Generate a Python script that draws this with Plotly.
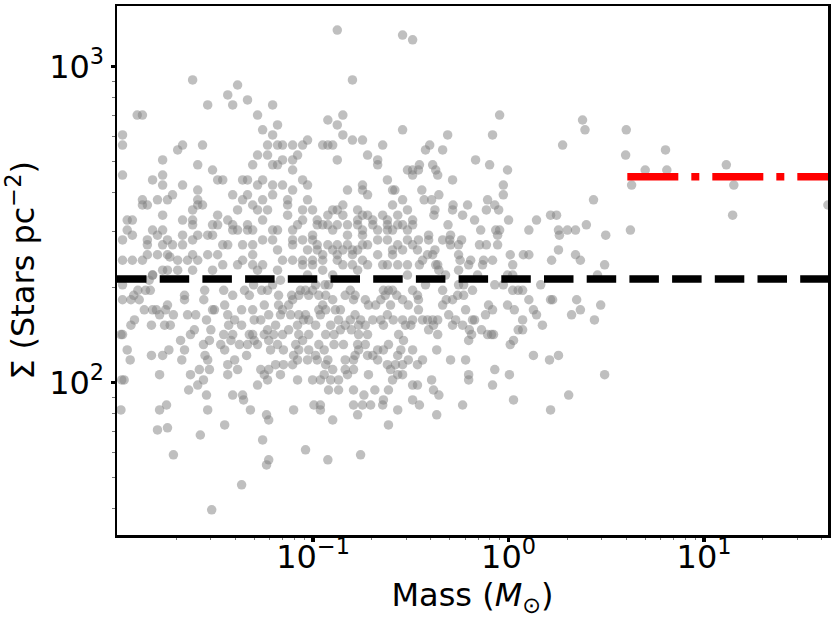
import plotly.graph_objects as go

# ---------------- data ----------------
mass = [
    # upper outliers
    0.0242, 0.0366, 0.0411, 0.0388, 0.0289, 0.0462, 0.0126, 0.0134, 0.0520, 0.0621, 0.0658, 0.133, 0.287, 0.323, 0.159, 0.119, 0.142, 0.133, 0.90, 0.287, 2.39, 2.46, 4.00,
    # low-mass, upper band
    0.0552, 0.0106, 0.0106, 0.0215, 0.0203, 0.0272, 0.0585, 0.0520, 0.0170, 0.0257,
    0.0491, 0.0585, 0.0106, 0.0170, 0.0306, 0.0345, 0.0151, 0.0170, 0.0325, 0.0436,
    0.0462, 0.0552, 0.0520, 0.0215, 0.0257, 0.0191, 0.0160, 0.0180, 0.0257, 0.0134,
    0.0134, 0.0142, 0.0257, 0.0272, 0.0388, 0.0436, 0.0462, 0.0491, 0.0520, 0.0411,
    0.0552, 0.0242, 0.0170, 0.0170, 0.0215, 0.0242, 0.0242, 0.0325, 0.0366, 0.0112,
    0.0119, 0.0306, 0.0325, 0.0388, 0.0388, 0.0411, 0.0462, 0.0552, 0.0462, 0.0491,
    0.0151, 0.0112, 0.0106, 0.0119, 0.0142, 0.0142, 0.0160, 0.0170, 0.0180, 0.0191,
    0.0215, 0.0215, 0.0257, 0.0242, 0.0289, 0.0306, 0.0345, 0.0366, 0.0436, 0.0552,
    0.0491, 0.0142, 0.0160, 0.0180, 0.0185, 0.0242, 0.0228, 0.0257, 0.0325, 0.0289,
    0.0106, 0.0119, 0.0134, 0.0203, 0.0345, 0.0411, 0.0436, 0.0491, 0.0170, 0.0180,
    0.0151, 0.0203, 0.0242, 0.0306, 0.0491, 0.0552, 0.0520,
    # intermediate mass, upper band
    0.0621, 0.0937, 0.142, 0.159, 0.179,
    0.0658, 0.0698, 0.0786, 0.0884, 0.112, 0.119, 0.126, 0.227,
    0.0698, 0.0658, 0.0621, 0.0786, 0.0833, 0.0786, 0.133, 0.190, 0.214, 0.214, 0.304, 0.323, 0.323,
    0.0621, 0.0698, 0.0786, 0.0884, 0.0937, 0.150, 0.179, 0.179, 0.240, 0.255, 0.262, 0.190, 0.287,
    0.0621, 0.0741, 0.0741, 0.0937, 0.142, 0.133, 0.126, 0.142, 0.255, 0.304, 0.323,
    0.0585, 0.0741, 0.0884, 0.0994, 0.119, 0.169, 0.169, 0.179, 0.190, 0.202, 0.227, 0.240, 0.271, 0.287,
    0.0884, 0.0786, 0.0833, 0.0658, 0.0621, 0.105, 0.105, 0.112, 0.119, 0.126, 0.133, 0.150, 0.169, 0.179, 0.202, 0.240, 0.240, 0.255, 0.271, 0.304, 0.323,
    0.0786, 0.0884, 0.0994, 0.0994, 0.150, 0.179, 0.214, 0.214, 0.240, 0.304, 0.271, 0.323,
    0.0621, 0.0786, 0.105, 0.119, 0.133, 0.150, 0.179, 0.190,
    0.0658, 0.0698, 0.0786, 0.0937, 0.0994, 0.105, 0.112, 0.126, 0.133, 0.142, 0.159, 0.159, 0.169, 0.179, 0.214, 0.255, 0.255, 0.287,
    0.0658, 0.0884, 0.0884, 0.0994, 0.112, 0.112, 0.133, 0.142, 0.159, 0.190, 0.227, 0.240, 0.271, 0.304,
    0.0937, 0.126, 0.169, 0.304,
    # higher mass, upper band
    0.488, 0.828, 1.89, 0.395, 0.376, 0.460, 0.678, 0.80, 0.988, 0.35, 0.346, 0.409, 0.424, 0.434, 0.517, 0.94, 0.94,
    0.36, 0.37, 0.404, 0.44, 0.781, 0.77, 0.85, 0.89, 0.617, 0.52, 0.517, 0.582, 0.42, 0.415,
    1.0, 0.67, 0.72, 0.86, 0.90, 0.879, 1.27, 1.39, 1.64, 1.76, 1.80, 1.82,
    0.49, 0.39, 0.39, 0.460, 0.505, 0.50, 0.505, 0.575, 0.555, 0.71, 0.77, 0.879,
    0.346, 0.342, 0.42, 0.409, 0.385, 0.363, 0.35, 0.434, 0.424, 0.44, 0.476,
    0.555, 0.565, 0.555, 0.640, 0.625, 0.745, 0.736, 0.828, 1.02, 1.05, 1.19, 1.27, 1.66, 1.80,
    0.694, 0.988, 1.05,
    # most massive stars
    3.97, 6.35, 5.0, 6.45, 13.0, 4.26, 14.2, 14.0, 43.0, 2.72, 2.00, 2.20, 2.50, 3.14, 4.2, 2.2, 2.33, 3.10, 2.85, 2.23, 2.33, 2.10, 2.96, 2.75, 3.10, 2.03,
    # low-mass, lower band
    0.0106, 0.0106, 0.0121, 0.0117, 0.0129, 0.0127, 0.0139, 0.0147, 0.0145, 0.0151,
    0.0137, 0.0151, 0.0158, 0.0180, 0.0164, 0.0193, 0.0176, 0.0122, 0.0117, 0.0149, 0.0174, 0.0186,
    0.0220, 0.0220, 0.0228, 0.0251, 0.0279, 0.0276, 0.0313, 0.0306, 0.0353, 0.0349, 0.0388, 0.0446, 0.0472, 0.0496, 0.0546, 0.0563, 0.0491, 0.0500, 0.0540,
    0.0366, 0.0397, 0.0431, 0.0285, 0.0370, 0.0431, 0.0472, 0.0491, 0.0500, 0.0563, 0.0388, 0.0349, 0.0337, 0.0300, 0.0247, 0.0236, 0.0210, 0.0220, 0.0275, 0.0295, 0.0380, 0.0420, 0.0462, 0.0520,
    0.0106, 0.0104, 0.0112, 0.0116, 0.0149, 0.0170, 0.0183, 0.0213, 0.0280, 0.0289, 0.0353, 0.0397, 0.0457,
    0.0295, 0.0262, 0.0236, 0.0275, 0.0257, 0.0231, 0.0285, 0.0366, 0.0366, 0.0411, 0.0540, 0.0563, 0.0520, 0.0164, 0.0105, 0.0108,
    0.0388, 0.0436, 0.0441, 0.0104, 0.0164, 0.0178, 0.0289, 0.0478, 0.0353, 0.0578,
    # intermediate mass, lower band
    0.0585, 0.0621, 0.0681, 0.0666, 0.0666, 0.0698, 0.0681, 0.0750, 0.0786, 0.0777, 0.0845, 0.0862, 0.0915, 0.0950, 0.0994, 0.103, 0.107, 0.115, 0.120, 0.126, 0.116, 0.112,
    0.107, 0.116, 0.109, 0.130, 0.138, 0.146, 0.155, 0.164, 0.161, 0.185, 0.192, 0.209, 0.229, 0.234, 0.243, 0.249, 0.255, 0.268, 0.287, 0.307, 0.323, 0.222,
    0.164, 0.175, 0.171, 0.155, 0.146, 0.135, 0.123, 0.103, 0.0950, 0.0845, 0.0893, 0.0915, 0.0768, 0.0643, 0.0593,
    0.0585, 0.0628, 0.0698, 0.0750, 0.0833, 0.0845, 0.0884, 0.0950, 0.116, 0.128, 0.138, 0.157, 0.171, 0.185, 0.190, 0.202, 0.222, 0.229, 0.240, 0.257, 0.287, 0.316, 0.323, 0.274, 0.290, 0.297,
    0.0593, 0.0658, 0.0705, 0.0606, 0.0815, 0.0845, 0.0795, 0.0950, 0.107, 0.114, 0.128, 0.143, 0.169, 0.171, 0.185, 0.190, 0.214, 0.229, 0.243, 0.271, 0.281, 0.323,
    0.0643, 0.0593, 0.0705, 0.0786, 0.0833, 0.0937, 0.103, 0.105, 0.119, 0.116, 0.126, 0.146, 0.161, 0.164, 0.146, 0.161, 0.202, 0.214, 0.240, 0.264, 0.287, 0.307,
    0.0585, 0.0681, 0.0833, 0.0994, 0.109, 0.114, 0.123, 0.135, 0.150, 0.192, 0.249, 0.271, 0.255, 0.287, 0.323,
    0.120, 0.135, 0.161, 0.182, 0.207, 0.243, 0.323,
    0.0795, 0.101, 0.109, 0.109, 0.161, 0.179, 0.197, 0.227, 0.229, 0.271, 0.126, 0.169, 0.0593, 0.243,
    # higher mass, lower band
    0.376, 0.460, 0.555, 0.589, 0.654, 0.85, 0.94, 1.46,
    0.342, 0.346, 0.346, 0.460, 0.48, 0.517, 0.549, 0.589, 0.494, 0.603, 0.517, 0.363, 0.385, 0.409, 0.434, 0.413, 0.390, 0.434, 0.536, 0.582, 0.654, 0.67, 0.727, 0.63, 0.647, 0.625,
    0.762, 0.79, 0.828, 0.781, 0.818, 0.838, 0.988, 1.07, 1.05, 1.12, 1.18, 1.27, 1.34, 1.39, 1.18, 1.18, 1.12, 1.49, 1.64, 1.68, 1.02, 1.06,
    0.429, 0.505, 0.603, 0.363, 0.342, 1.34, 1.62, 1.80, 0.625, 0.625, 0.85, 1.01, 0.828, 0.404, 0.413, 0.44, 0.342, 0.35, 0.582, 0.429, 1.06, 1.64,
    # lower outliers
    0.0160, 0.0180, 0.0265, 0.0193, 0.0552, 0.0593, 0.0578, 0.0431, 0.0303, 0.0915, 0.119, 0.175,
]

sigma = [
    # upper outliers
    908, 814, 875, 757, 757, 785, 703, 703, 703, 757, 654, 1306, 1259, 1216, 908, 678, 703, 654, 703, 631, 678, 631, 631,
    # low-mass, upper band
    631, 608, 565, 565, 545, 565, 565, 525, 507, 489,
    489, 525, 454, 454, 471, 438, 438, 422, 438, 438,
    438, 438, 422, 422, 407, 393, 379, 379, 379, 379,
    365, 365, 365, 365, 393, 379, 393, 365, 352, 352,
    379, 352, 339, 304, 327, 327, 316, 339, 327, 327,
    327, 316, 316, 316, 304, 304, 316, 327, 304, 304,
    304, 304, 283, 293, 283, 273, 293, 273, 283, 273,
    293, 273, 293, 283, 293, 293, 273, 273, 273, 283,
    273, 254, 254, 254, 250, 254, 244, 244, 254, 254,
    244, 244, 244, 244, 236, 236, 244, 254, 227, 227,
    219, 227, 227, 227, 236, 236, 227,
    # intermediate mass, upper band
    608, 586, 608, 586, 586,
    565, 565, 565, 565, 565, 565, 565, 565,
    507, 489, 489, 507, 525, 471, 507, 525, 507, 489, 471, 454, 471,
    422, 422, 407, 438, 422, 407, 422, 407, 438, 407, 407, 393, 379,
    393, 379, 365, 379, 365, 352, 352, 339, 365, 352, 327,
    352, 339, 352, 352, 339, 352, 327, 339, 339, 327, 339, 327, 339, 316,
    327, 304, 316, 304, 304, 327, 316, 316, 316, 304, 316, 316, 316, 304, 316, 316, 304, 304, 316, 304, 316,
    283, 283, 293, 283, 293, 293, 304, 283, 283, 283, 273, 273,
    283, 273, 273, 273, 273, 273, 273, 273,
    263, 244, 244, 263, 244, 263, 254, 263, 254, 263, 263, 254, 263, 244, 254, 263, 254, 263,
    227, 244, 236, 236, 244, 227, 244, 236, 236, 236, 236, 236, 236, 236,
    219, 219, 227, 219,
    # higher mass, upper band
    608, 608, 565, 565, 545, 545, 507, 489, 471, 489, 471, 489, 471, 454, 438, 422, 393,
    407, 379, 379, 393, 379, 352, 365, 352, 365, 365, 352, 339, 352, 339,
    327, 327, 304, 304, 304, 293, 304, 327, 339, 339, 304, 293,
    316, 293, 283, 283, 293, 283, 273, 283, 273, 273, 273, 273,
    283, 263, 263, 254, 254, 244, 236, 236, 236, 227, 219,
    254, 244, 227, 244, 236, 244, 236, 244, 254, 236, 254, 254, 244, 263,
    219, 219, 219,
    # most massive stars
    525, 545, 471, 471, 489, 422, 422, 339, 365, 379, 304, 304, 316, 293, 304, 254, 244, 236, 219, 183, 170, 164, 176, 158, 106, 91.4,
    # low-mass, lower band
    204, 183, 189, 183, 183, 196, 196, 196, 211, 219,
    170, 170, 170, 176, 164, 164, 170, 158, 152, 152, 152, 152,
    189, 183, 164, 164, 196, 183, 170, 170, 176, 196, 189, 196, 189, 204, 196, 176, 170, 158, 158,
    164, 158, 170, 158, 152, 152, 142, 142, 136, 142, 142, 142, 132, 147, 147, 142, 136, 127, 132, 136, 136, 132, 132, 132,
    142, 142, 127, 118, 122, 122, 127, 118, 122, 118, 127, 118, 122,
    110, 110, 106, 102, 98.3, 94.8, 91.4, 114, 106, 110, 110, 106, 98.3, 106, 102, 102,
    91.4, 91.4, 88.2, 82.0, 82.0, 85.0, 82.0, 82.0, 73.5, 79.1,
    # intermediate mass, lower band
    196, 204, 211, 189, 176, 170, 164, 176, 183, 189, 189, 196, 196, 189, 196, 204, 189, 204, 204, 183, 189, 176,
    170, 170, 164, 170, 170, 189, 196, 189, 183, 183, 176, 176, 196, 189, 196, 176, 196, 189, 183, 176, 196, 183,
    164, 158, 152, 158, 152, 158, 152, 152, 158, 164, 158, 164, 164, 152, 164,
    147, 142, 142, 147, 152, 142, 136, 142, 142, 142, 147, 147, 142, 152, 142, 158, 158, 152, 164, 158, 158, 152, 158, 142, 136, 152,
    136, 132, 127, 127, 132, 127, 122, 127, 132, 127, 132, 132, 132, 127, 132, 122, 127, 127, 132, 122, 127, 127,
    114, 110, 114, 114, 118, 118, 122, 118, 118, 114, 110, 118, 118, 122, 110, 110, 122, 118, 114, 114, 114, 118,
    102, 106, 102, 102, 102, 106, 102, 102, 106, 106, 110, 106, 102, 106, 98.3,
    94.8, 94.8, 94.8, 91.4, 94.8, 94.8, 88.2,
    82.0, 85.0, 85.0, 82.0, 85.0, 85.0, 85.0, 85.0, 88.2, 82.0, 76.2, 79.1, 76.2, 73.5,
    # higher mass, lower band
    204, 196, 204, 204, 196, 204, 204, 204,
    189, 183, 170, 176, 183, 183, 189, 189, 164, 170, 152, 158, 158, 158, 158, 152, 147, 142, 158, 152, 158, 158, 147, 147, 142, 136,
    164, 176, 170, 142, 142, 142, 176, 170, 196, 196, 196, 183, 170, 164, 158, 147, 147, 152, 183, 183, 132, 136,
    127, 118, 118, 118, 114, 122, 118, 122, 106, 102, 110, 106, 98.3, 102, 94.8, 91.4, 98.3, 85.0, 85.0, 79.1, 88.2, 82.0,
    # lower outliers
    70.9, 72.0, 68.3, 59.1, 65.9, 57.0, 54.9, 47.5, 39.6, 61.3, 57.0, 59.1,
]

assert len(mass) == len(sigma), (len(mass), len(sigma))

mean_sigma_all = 212.8        # black dashed level
mean_sigma_massive = 448.7    # red dash-dot level
massive_cut = 4.05            # red line starts here (Msun)

x_range_log = [-2.003, 1.634]
y_range_log = [1.518, 3.192]

x_major = [0.1, 1, 10]
x_major_text = ["10<sup>−1</sup>", "10<sup>0</sup>", "10<sup>1</sup>"]
y_major = [100, 1000]
y_major_text = ["10<sup>2</sup>", "10<sup>3</sup>"]
x_minor = [0.02, 0.03, 0.04, 0.05, 0.06, 0.07, 0.08, 0.09,
           0.2, 0.3, 0.4, 0.5, 0.6, 0.7, 0.8, 0.9,
           2, 3, 4, 5, 6, 7, 8, 9, 20, 30, 40]
y_minor = [40, 50, 60, 70, 80, 90, 200, 300, 400, 500, 600, 700, 800, 900]

x_lo = 10 ** x_range_log[0]
x_hi = 10 ** x_range_log[1]

fig = go.Figure()
fig.add_trace(go.Scatter(
    x=mass, y=sigma, mode="markers",
    marker=dict(size=9.5, color="rgba(128,128,128,0.5)", line=dict(width=0)),
    hoverinfo="skip", showlegend=False,
))
fig.add_trace(go.Scatter(
    x=[x_lo, x_hi], y=[mean_sigma_all, mean_sigma_all], mode="lines",
    line=dict(color="black", width=7.5, dash="29.5px,13.2px"),
    showlegend=False, hoverinfo="skip",
))
fig.add_trace(go.Scatter(
    x=[massive_cut, x_hi], y=[mean_sigma_massive, mean_sigma_massive], mode="lines",
    line=dict(color="red", width=7.5, dash="51px,13px,8px,13px"),
    showlegend=False, hoverinfo="skip",
))

axis_common = dict(
    type="log", showgrid=False, zeroline=False, automargin=False,
    showline=True, linecolor="black", linewidth=2.5, mirror=True,
    ticks="outside", ticklen=4, tickwidth=3.5, tickcolor="black",
    tickfont=dict(size=32, color="black", family="DejaVu Sans"),
    tickmode="array",
)

fig.update_xaxes(
    **axis_common,
    range=x_range_log, tickvals=x_major, ticktext=x_major_text,
    ticklabelstandoff=-12,
    minor=dict(tickmode="array", tickvals=x_minor, ticks="outside", ticklen=2.5,
               tickwidth=1, tickcolor="#777", showgrid=False),
    title=dict(text="Mass (<i>M</i><sub>⊙</sub>)", font=dict(size=32, color="black"), standoff=0),
)
fig.update_yaxes(
    **axis_common,
    range=y_range_log, tickvals=y_major, ticktext=y_major_text,
    minor=dict(tickmode="array", tickvals=y_minor, ticks="outside", ticklen=2.5,
               tickwidth=1, tickcolor="#777", showgrid=False),
    title=dict(text="Σ (Stars pc<sup>−2</sup>)", font=dict(size=32, color="black"), standoff=23),
)

fig.update_layout(
    width=835, height=622,
    margin=dict(l=117, r=7, t=6, b=87),
    plot_bgcolor="white", paper_bgcolor="white",
    font=dict(family="DejaVu Sans", color="black"),
    showlegend=False,
)

fig.write_html(
    "out.html",
    config={"displayModeBar": False, "staticPlot": True},
    post_script="document.body.style.margin='0';document.body.style.overflow='hidden';",
)
